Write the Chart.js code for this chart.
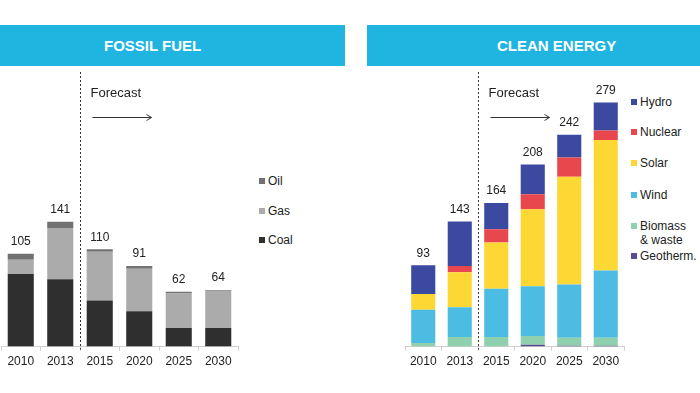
<!DOCTYPE html>
<html>
<head>
<meta charset="utf-8">
<script src="https://cdn.jsdelivr.net/npm/chart.js@4"></script>
<style>
  body { margin: 0; width: 700px; height: 393px; background: #fff; position: relative; overflow: hidden;
         font-family: "Liberation Sans", Arial, sans-serif; color: #222; }
  .bar { position: absolute; top: 25px; height: 41px; background: #20B5E1; color: #fff;
         font-weight: bold; font-size: 15px; line-height: 41px; }
  .box { position: absolute; top: 70px; height: 323px; }
  .leg { position: absolute; font-size: 12px; line-height: 14px; }
  .leg i { position: absolute; left: -9px; top: 4px; width: 6px; height: 6px; }
</style>
</head>
<body>
<div class="bar" style="left:0;width:345px;"><span style="position:absolute;left:104px;">FOSSIL FUEL</span></div>
<div class="bar" style="left:367px;width:333px;"><span style="position:absolute;left:130px;">CLEAN ENERGY</span></div>

<div class="box" style="left:0;width:250px;"><canvas id="fossil"></canvas></div>
<div class="box" style="left:390px;width:240px;"><canvas id="clean"></canvas></div>

<div id="fossilLegend"></div>
<div id="cleanLegend"></div>

<script>
// Years on the x axis
const years = ['2010', '2013', '2015', '2020', '2025', '2030'];

// Fossil fuel series
const coal = [82, 76, 52, 40, 21, 21];
const gas = [16, 58, 55, 48, 39, 42];
const oil = [7, 7, 3, 3, 2, 1];

// Clean energy series
const geotherm = [0, 0, 0, 2, 1, 1];
const biomass = [4, 11, 11, 10, 9, 9];
const wind = [38, 34, 55, 57, 61, 77];
const solar = [18, 40, 53, 88, 123, 149];
const nuclear = [0, 7, 15, 17, 22, 11];
const hydro = [33, 51, 30, 34, 26, 32];

const font = '"Liberation Sans", Arial, sans-serif';

// totals over the bars, dashed forecast divider and arrow
const annotPlugin = {
    id: 'annot',
    afterDatasetsDraw(chart) {
        const ctx = chart.ctx;
        const xs = chart.scales.x;
        const sets = chart.data.datasets;
        const topMeta = chart.getDatasetMeta(sets.length - 1);
        ctx.save();
        ctx.fillStyle = '#222';
        ctx.font = '12px ' + font;
        ctx.textAlign = 'center';
        ctx.textBaseline = 'middle';
        years.forEach((y, i) => {
            const total = sets.reduce((s, d) => s + d.data[i], 0);
            const bar = topMeta.data[i];
            ctx.fillText(total, bar.x, bar.y - 12);
        });

        const dx = Math.round((xs.getPixelForValue(1) + xs.getPixelForValue(2)) / 2) + 0.5;
        ctx.strokeStyle = '#333';
        ctx.lineWidth = 1;
        ctx.setLineDash([2, 2]);
        ctx.beginPath();
        ctx.moveTo(dx, 2);
        ctx.lineTo(dx, chart.chartArea.bottom + 3);
        ctx.stroke();
        ctx.setLineDash([]);

        ctx.font = '13px ' + font;
        ctx.textAlign = 'left';
        ctx.fillText('Forecast', dx + 10, 23);
        const ay = 47.5;
        ctx.beginPath();
        ctx.moveTo(dx + 12, ay);
        ctx.lineTo(dx + 71, ay);
        ctx.moveTo(dx + 66, ay - 3);
        ctx.lineTo(dx + 71, ay);
        ctx.lineTo(dx + 66, ay + 3);
        ctx.stroke();
        ctx.restore();
    }
};

function makeChart(id, datasets, max, pad) {
    return new Chart(document.getElementById(id), {
        type: 'bar',
        data: { labels: years, datasets: datasets },
        options: {
            responsive: true,
            maintainAspectRatio: false,
            animation: false,
            layout: { padding: pad },
            plugins: { legend: { display: false }, tooltip: { enabled: false } },
            datasets: { bar: { barPercentage: 0.66, categoryPercentage: 1 } },
            scales: {
                x: {
                    stacked: true,
                    grid: { drawOnChartArea: false, tickLength: 4, color: '#cfcfcf' },
                    border: { color: '#cfcfcf' },
                    ticks: { color: '#222', padding: 4, font: { family: font, size: 12 } }
                },
                y: { stacked: true, display: false, min: 0, max: max }
            }
        },
        plugins: [annotPlugin]
    });
}

makeChart('fossil', [
    { label: 'Coal', data: coal, backgroundColor: '#2F2F2F' },
    { label: 'Gas', data: gas, backgroundColor: '#ABABAB' },
    { label: 'Oil', data: oil, backgroundColor: '#717171' }
], 300, { left: 1, right: 12, top: 11, bottom: 20 });

makeChart('clean', [
    { label: 'Geotherm.', data: geotherm, backgroundColor: '#5B4B8E' },
    { label: 'Biomass\n& waste', data: biomass, backgroundColor: '#8FD0AF' },
    { label: 'Wind', data: wind, backgroundColor: '#4CBCE3' },
    { label: 'Solar', data: solar, backgroundColor: '#FDD835' },
    { label: 'Nuclear', data: nuclear, backgroundColor: '#E8474D' },
    { label: 'Hydro', data: hydro, backgroundColor: '#3B49A0' }
], 300, { left: 15, right: 6, top: 14, bottom: 20 });

// legends
function legend(elId, items, x) {
    const el = document.getElementById(elId);
    items.forEach(([name, color, y]) => {
        const d = document.createElement('div');
        d.className = 'leg';
        d.style.left = x + 'px';
        d.style.top = (y - 7) + 'px';
        d.innerHTML = '<i style="background:' + color + '"></i>' + name;
        el.appendChild(d);
    });
}
legend('fossilLegend', [['Oil', '#717171', 181], ['Gas', '#ABABAB', 211], ['Coal', '#2F2F2F', 240]], 268);
legend('cleanLegend', [['Hydro', '#3B49A0', 102], ['Nuclear', '#E8474D', 132], ['Solar', '#FDD835', 163],
    ['Wind', '#4CBCE3', 195], ['Biomass<br>&amp; waste', '#8FD0AF', 226], ['Geotherm.', '#5B4B8E', 256]], 640);
</script>
</body>
</html>
